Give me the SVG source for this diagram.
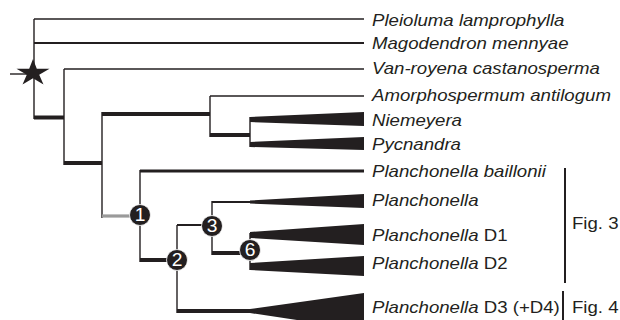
<svg xmlns="http://www.w3.org/2000/svg" width="620" height="320" viewBox="0 0 620 320">
<style>
.ln{stroke:#231f20;fill:none;stroke-linecap:butt}
.t1{stroke-width:1.4}
.t2{stroke-width:2}
.t3{stroke-width:3.2}
.t4{stroke-width:4}
.wedge{fill:#231f20}
.lab{font-family:"Liberation Sans",Arial,sans-serif;font-size:16.2px;fill:#231f20}
.it{font-style:italic}
.num{font-family:"Liberation Sans",Arial,sans-serif;font-size:17.5px;fill:#fff;text-anchor:middle}
.dot{fill:#231f20;stroke:#fff;stroke-width:0.8}
</style>
<rect width="620" height="320" fill="#fff"/>
<g id="connectors">
<path class="ln t1" d="M34 19V119"/>
<path class="ln t1" d="M34 19H364"/>
<path class="ln t2" d="M34 43H364"/>
<path class="ln t1" d="M10 74H33"/>
<path class="ln t4" d="M34 117.5H64"/>
<path class="ln t1" d="M64 69V165"/>
<path class="ln t1" d="M64 69H364"/>
<path class="ln t4" d="M64 163H102"/>
<path class="ln t1" d="M102 112V218"/>
<path class="ln t4" d="M102 114H210"/>
<path class="ln t1" d="M210 96V137"/>
<path class="ln t1" d="M210 96H364"/>
<path class="ln t4" d="M210 135H250"/>
<path class="ln t1" d="M250 117V147"/>
<path d="M102 216H134" stroke="#9a9a9a" stroke-width="3.2" fill="none"/>
<path class="ln t1" d="M140 170V262"/>
<path class="ln t3" d="M140 171H364"/>
<path class="ln t4" d="M140 260H170"/>
<path class="ln t1" d="M177 225V313"/>
<path class="ln t2" d="M177 225H205"/>
<path class="ln t1" d="M212 201V255"/>
<path class="ln t2" d="M212 202H256"/>
<path class="ln t4" d="M212 253H245"/>
<path class="ln t1" d="M250 233V270"/>
<path class="ln t4" d="M177 311H256"/>
</g>
<g id="root-star">
<polygon class="wedge" points="33,59 36.8,68.7 49.5,68.7 39.2,74.7 43.5,84.5 33,78.3 22.5,84.5 26.8,74.7 16.5,68.7 29.2,68.7"/>
</g>
<g id="node-1">
<circle class="dot" cx="140" cy="215" r="10.5"/>
<text class="num" transform="translate(140 221.3) scale(1.1 1)">1</text>
</g>
<g id="node-2">
<circle class="dot" cx="177" cy="260" r="10.5"/>
<text class="num" transform="translate(177 266.3) scale(1.1 1)">2</text>
</g>
<g id="node-3">
<circle class="dot" cx="212" cy="226" r="10.5"/>
<text class="num" transform="translate(212 232.3) scale(1.1 1)">3</text>
</g>
<g id="node-6">
<circle class="dot" cx="250" cy="250" r="10.5"/>
<text class="num" transform="translate(250 256.3) scale(1.1 1)">6</text>
</g>
<g id="leaf-pleioluma">
<text class="lab it" transform="translate(372 25.5) scale(1.15 1)">Pleioluma lamprophylla</text>
</g>
<g id="leaf-magodendron">
<text class="lab it" transform="translate(372 49) scale(1.15 1)">Magodendron mennyae</text>
</g>
<g id="leaf-vanroyena">
<text class="lab it" transform="translate(372 74) scale(1.15 1)">Van-royena castanosperma</text>
</g>
<g id="leaf-amorphospermum">
<text class="lab it" transform="translate(372 100.5) scale(1.15 1)">Amorphospermum antilogum</text>
</g>
<g id="leaf-niemeyera">
<polygon class="wedge" points="250,117 364,112 364,126 250,122"/>
<text class="lab it" transform="translate(372 126) scale(1.15 1)">Niemeyera</text>
</g>
<g id="leaf-pycnandra">
<polygon class="wedge" points="250,142 364,137 364,150 250,147"/>
<text class="lab it" transform="translate(372 150) scale(1.15 1)">Pycnandra</text>
</g>
<g id="leaf-baillonii">
<text class="lab it" transform="translate(372 177) scale(1.15 1)">Planchonella baillonii</text>
</g>
<g id="leaf-planchonella">
<polygon class="wedge" points="250,200.5 364,194 364,208 250,203.5"/>
<text class="lab it" transform="translate(372 206) scale(1.15 1)">Planchonella</text>
</g>
<g id="leaf-d1">
<polygon class="wedge" points="250,232 364,224 364,245 250,238"/>
<text class="lab" transform="translate(372 241) scale(1.15 1)"><tspan class="it">Planchonella</tspan> D1</text>
</g>
<g id="leaf-d2">
<polygon class="wedge" points="250,263 364,256 364,276 250,270"/>
<text class="lab" transform="translate(372 269) scale(1.15 1)"><tspan class="it">Planchonella</tspan> D2</text>
</g>
<g id="leaf-d3">
<polygon class="wedge" points="250,309 364,293 364,330 250,313"/>
<text class="lab" transform="translate(372 313) scale(1.15 1)"><tspan class="it">Planchonella</tspan> D3 (+D4)</text>
</g>
<g id="fig3">
<path class="ln t2" d="M565 168V283"/>
<text class="lab" transform="translate(572 229) scale(1.15 1)">Fig. 3</text>
</g>
<g id="fig4">
<path class="ln t2" d="M563 291V320"/>
<text class="lab" transform="translate(572 313) scale(1.15 1)">Fig. 4</text>
</g>
</svg>
